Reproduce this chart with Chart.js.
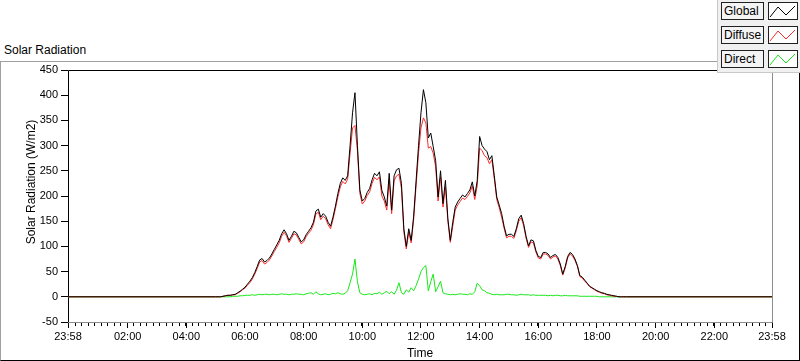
<!DOCTYPE html>
<html>
<head>
<meta charset="utf-8">
<script src="https://cdn.jsdelivr.net/npm/chart.js@4"></script>
<style>
  body { margin: 0; background: #fff; font-family: "Liberation Sans", Arial, sans-serif; }
  #wrap { position: relative; width: 800px; height: 361px; overflow: hidden; background: #fff; }
  #frame { position: absolute; left: 0; top: 61px; width: 800px; height: 300px; box-sizing: border-box;
           border-top: 1px solid #a0a0a0; border-left: 1px solid #a0a0a0; border-right: 1px solid #000; border-bottom: 1px solid #000; }
  #panelTitle { position: absolute; left: 4px; top: 43px; font-size: 12px; color: #000; }
  #chart { position: absolute; left: 0; top: 0; }
  #legend { position: absolute; left: 717px; top: 0; width: 83px; height: 73px; background: #f0f0f0;
            border-left: 1px solid #c8c8c8; border-bottom: 1px solid #c8c8c8; box-sizing: border-box; }
  .lab { position: absolute; left: 3px; width: 43px; height: 18px; box-sizing: border-box; border: 1px solid #202020;
         background: #f4f4f4; font-size: 12px; line-height: 16px; padding-left: 2px; color: #000; }
  .sw { position: absolute; left: 50px; width: 30px; height: 18px; box-sizing: border-box; border: 1px solid #202020; background: #fff; }
  .sw svg { position: absolute; left: 0; top: 0; }
</style>
</head>
<body>
<div id="wrap">
  <div id="frame"></div>
  <div id="panelTitle">Solar Radiation</div>
  <canvas id="chart" width="800" height="361"></canvas>
  <div id="legend"></div>
</div>
<script>
// sampling: every 5 min from 05:00 to 19:00 (minutes since midnight)
const startMin = 300;
const stepMin = 5;

const globalRad = [
  0, 0, 0, 1, 2, 3, 3, 4, 5, 8, 11, 15,
  19, 25, 31, 38, 48, 60, 73, 76, 69, 72, 77, 85,
  94, 103, 112, 125, 133, 125, 112, 120, 130, 127, 118, 109,
  113, 123, 130, 137, 148, 170, 174, 158, 165, 160, 148, 140,
  158, 180, 205, 225, 236, 231, 240, 300, 365, 405, 300, 212,
  190, 195, 207, 215, 232, 245, 240, 248, 211, 198, 180, 245,
  172, 240, 252, 255, 225, 135, 100, 135, 112, 160, 230, 300,
  365, 411, 385, 315, 325, 298, 270, 198, 250, 185, 231, 155,
  112, 148, 178, 188, 195, 202, 198, 205, 212, 228, 200, 230,
  318, 300, 293, 288, 272, 280, 240, 198, 182, 165, 140, 121,
  124, 124, 120, 135, 155, 162, 145, 120, 101, 113, 111, 92,
  80, 78, 88, 88, 85, 78, 82, 84, 78, 65, 45, 60,
  80, 88, 84, 75, 62, 42, 39, 33, 27, 21, 18, 15,
  12, 10, 8, 7, 5, 4, 3, 2, 1, 0, 0, 0,
  0
];
const diffuseRad = [
  0, 0, 0, 1, 2, 3, 3, 4, 4, 7, 10, 14,
  17, 23, 28, 35, 45, 56, 69, 72, 65, 68, 73, 81,
  90, 98, 107, 120, 128, 121, 108, 116, 125, 123, 114, 105,
  109, 119, 126, 132, 143, 164, 168, 153, 160, 155, 143, 135,
  153, 175, 198, 218, 229, 224, 233, 285, 335, 340, 290, 205,
  184, 190, 201, 208, 225, 237, 232, 238, 200, 190, 172, 232,
  165, 230, 240, 243, 215, 128, 95, 128, 107, 153, 220, 285,
  335, 355, 345, 295, 298, 285, 258, 190, 238, 178, 218, 150,
  108, 140, 172, 182, 189, 196, 193, 199, 206, 220, 193, 220,
  295, 290, 280, 276, 264, 272, 234, 193, 177, 158, 136, 117,
  120, 120, 116, 131, 150, 157, 141, 116, 98, 109, 107, 89,
  77, 75, 85, 85, 82, 75, 79, 81, 75, 62, 43, 57,
  77, 85, 81, 72, 60, 40, 37, 31, 26, 20, 17, 14,
  11, 9, 7, 6, 4, 3, 2, 1, 1, 0, 0, 0,
  0
];
const directRad = [
  0, 0, 0, 0, 0, 0, 0, 1, 1, 1, 2, 2,
  3, 3, 3, 4, 3, 4, 5, 4, 5, 5, 4, 5,
  5, 4, 5, 6, 5, 5, 4, 5, 5, 6, 5, 5,
  4, 6, 7, 8, 5, 10, 6, 4, 5, 6, 4, 5,
  7, 6, 8, 6, 5, 7, 12, 28, 45, 75, 30, 8,
  5, 4, 5, 6, 4, 7, 6, 9, 5, 8, 11, 6,
  10, 5, 13, 28, 8, 5, 14, 9, 18, 12, 22, 35,
  50, 58, 62, 12, 30, 45, 10, 20, 31, 8, 6, 5,
  4, 5, 4, 5, 6, 5, 5, 4, 6, 5, 10, 27,
  22, 14, 12, 8, 7, 5, 4, 5, 4, 4, 4, 5,
  5, 4, 4, 3, 4, 5, 4, 4, 4, 3, 4, 3,
  3, 3, 3, 3, 2, 3, 2, 3, 3, 2, 2, 3,
  2, 2, 2, 2, 2, 1, 1, 1, 1, 1, 1, 1,
  1, 0, 0, 0, 0, 0, 0, 0, 0, 0, 0, 0,
  0
];

// x axis in minutes since midnight, runs 23:58 -> 23:58
const xMin = -2, xMax = 1438;
const xTickValues = [-2, 120, 240, 360, 480, 600, 720, 840, 960, 1080, 1200, 1320, 1438];
const xTickLabels = ['23:58', '02:00', '04:00', '06:00', '08:00', '10:00', '12:00', '14:00', '16:00', '18:00', '20:00', '22:00', '23:58'];
const yTickValues = [-50, 0, 50, 100, 150, 200, 250, 300, 350, 400, 450];

const seriesNames = ['Global', 'Diffuse', 'Direct'];
const seriesColors = ['#000000', '#ff2a2a', '#18e818'];

function toPoints(vals) {
  let pts = [{ x: xMin, y: 0 }];
  vals.forEach((v, i) => pts.push({ x: startMin + i * stepMin, y: v }));
  pts.push({ x: xMax, y: 0 });
  return pts;
}

const tickFont = { family: 'Liberation Sans', size: 11 };

const framePlugin = {
  id: 'frame',
  beforeDatasetsDraw(chart) {
    const { ctx, chartArea: a } = chart;
    ctx.save();
    ctx.lineWidth = 1;
    ctx.strokeStyle = '#000';
    ctx.beginPath();
    ctx.moveTo(a.left + 0.5, a.bottom);
    ctx.lineTo(a.left + 0.5, a.top + 0.5);
    ctx.lineTo(a.right, a.top + 0.5);
    ctx.stroke();
    ctx.strokeStyle = '#8c8c8c';
    ctx.beginPath();
    ctx.moveTo(a.right + 0.5, a.top);
    ctx.lineTo(a.right + 0.5, a.bottom + 0.5);
    ctx.lineTo(a.left, a.bottom + 0.5);
    ctx.stroke();
    // minor ticks on the time axis
    const sx = chart.scales.x;
    ctx.strokeStyle = '#000';
    ctx.beginPath();
    for (let k = 0; k <= 108; k++) {
      const px = Math.round(sx.getPixelForValue(xMin + k * (xMax - xMin) / 108)) + 0.5;
      ctx.moveTo(px, a.bottom + 1);
      ctx.lineTo(px, a.bottom + 4);
    }
    ctx.stroke();
    // y axis title
    ctx.translate(32, 182);
    ctx.rotate(-Math.PI / 2);
    ctx.font = '12px "Liberation Sans"';
    ctx.fillStyle = '#000';
    ctx.textAlign = 'center';
    ctx.textBaseline = 'middle';
    ctx.fillText('Solar Radiation (W/m2)', 0, 0);
    ctx.restore();
  }
};

new Chart(document.getElementById('chart'), {
  type: 'line',
  data: {
    datasets: [
      { label: seriesNames[0], data: toPoints(globalRad), borderColor: seriesColors[0] },
      { label: seriesNames[1], data: toPoints(diffuseRad), borderColor: seriesColors[1] },
      { label: seriesNames[2], data: toPoints(directRad), borderColor: seriesColors[2] }
    ]
  },
  options: {
    responsive: false,
    animation: false,
    layout: { padding: { left: 0, top: 70, right: 28, bottom: 0 } },
    elements: { line: { borderWidth: 1, tension: 0 }, point: { radius: 0 } },
    plugins: { legend: { display: false }, tooltip: { enabled: false } },
    scales: {
      x: {
        type: 'linear', min: xMin, max: xMax,
        afterBuildTicks: s => { s.ticks = xTickValues.map(v => ({ value: v })); },
        afterFit: s => { s.height = 39; },
        ticks: { font: tickFont, color: '#000', maxRotation: 0, autoSkip: false, padding: 2,
                 callback: (v, i) => xTickLabels[i] },
        grid: { display: true, drawOnChartArea: false, drawTicks: true, tickLength: 6, tickColor: '#000' },
        border: { display: false },
        title: { display: true, text: 'Time', color: '#000', font: { family: 'Liberation Sans', size: 12 }, padding: 0 }
      },
      y: {
        min: -50, max: 450,
        afterBuildTicks: s => { s.ticks = yTickValues.map(v => ({ value: v })); },
        afterFit: s => { s.width = 68; },
        ticks: { font: tickFont, color: '#000', padding: 3 },
        grid: { display: true, drawOnChartArea: false, drawTicks: true, tickLength: 7, tickColor: '#000' },
        border: { display: false }
      }
    }
  },
  plugins: [framePlugin]
});

// legend panel
const legend = document.getElementById('legend');
const rowTops = [2, 26, 50];
seriesNames.forEach((name, i) => {
  const lab = document.createElement('div');
  lab.className = 'lab';
  lab.style.top = rowTops[i] + 'px';
  lab.textContent = name;
  legend.appendChild(lab);
  const sw = document.createElement('div');
  sw.className = 'sw';
  sw.style.top = rowTops[i] + 'px';
  sw.innerHTML = '<svg width="28" height="16"><polyline points="1,14 9,4 17,12 26,3" fill="none" stroke="' + seriesColors[i] + '" stroke-width="1"/></svg>';
  legend.appendChild(sw);
});
</script>
</body>
</html>
